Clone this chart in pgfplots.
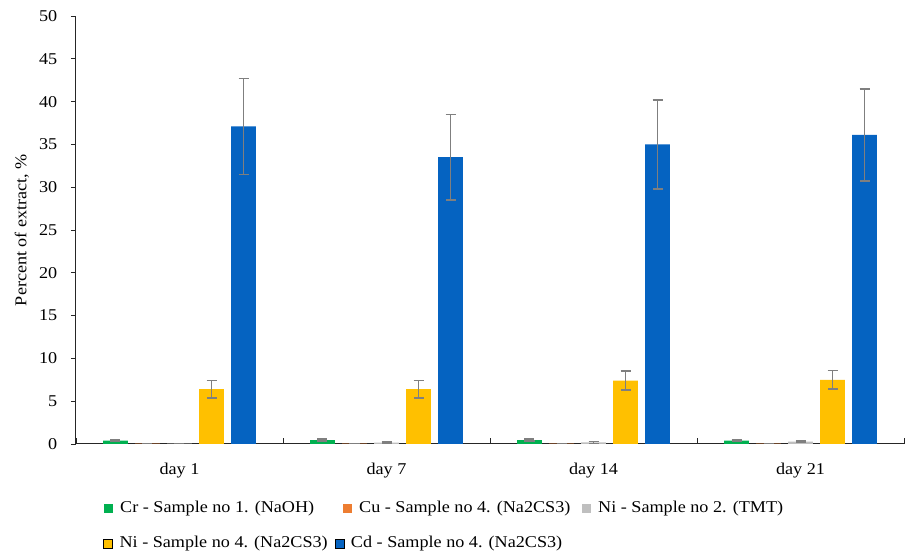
\documentclass[border=0pt]{standalone}
\usepackage{pgfplots}
\pgfplotsset{compat=1.18}
\usepackage{fontspec}
\setmainfont{Liberation Serif}[FakeStretch=1.1]
\definecolor{cgreen}{HTML}{00B050}
\definecolor{corange}{HTML}{ED7D31}
\definecolor{cgray}{HTML}{BFBFBF}
\definecolor{cyellow}{HTML}{FFC000}
\definecolor{cblue}{HTML}{0563C1}
\definecolor{errc}{HTML}{7F7F7F}
\begin{document}
\fontsize{16.5}{19}\selectfont
\begin{tikzpicture}
\pgfplotsset{
  mybar/.style={fill=#1, draw=none, bar width=0.119,
    error bars/.cd, y dir=both, y explicit,
    error bar style={errc, line width=1.6pt},
    error mark options={errc, line width=1.6pt, mark size=5pt, rotate=90},
    /pgfplots/.cd},
  legsq/.style={legend image code/.code={\fill[##1] (0pt,-4.5pt) rectangle (9pt,4.5pt);}},
}
\begin{axis}[
  name=main,
  at={(0pt,0pt)}, anchor=south west,
  scale only axis, width=828pt, height=428pt,
  ybar, 
  xmin=-0.5, xmax=3.5, ymin=0, ymax=50,
  ytick={0,5,...,50},
  xtick={0,1,2,3}, xticklabels={day 1, day 7, day 14, day 21},
  major x tick style={draw=none},
  minor xtick={-0.5,0.5,1.5,2.5,3.5},
  minor x tick style={black!85, line width=0.8pt},
  minor tick length=6pt,
  ytick style={black!85, line width=0.8pt},
  major tick length=5pt,
  tick align=outside,
  x tick style={/pgfplots/tick align=inside},
  axis x line*=bottom, axis y line*=left,
  axis line style={black!85, line width=1pt, -},
  /pgf/number format/assume math mode=true,
  tick label style={font=\fontsize{16.5}{19}\selectfont},
  xticklabel style={yshift=-8pt},
  yticklabel style={xshift=-8pt},
  ylabel={Percent of extract, \%},
  ylabel style={font=\fontsize{16.5}{19}\selectfont, yshift=-1pt},
  legend columns=-1,
  legend style={draw=none, inner sep=0pt, at={(0.0338,-0.1507)}, anchor=west,
    font=\fontsize{16.5}{19}\selectfont,
    nodes={inner sep=0pt},
    /tikz/every odd column/.style={column sep=7pt},
    /tikz/every even column/.style={column sep=0pt},
    legend cell align=left},
]
\addplot[mybar=cgreen, bar shift=-0.3092, legsq] coordinates {
 (0,0.40) +- (0,0.10) (1,0.45) +- (0,0.10) (2,0.45) +- (0,0.10) (3,0.40) +- (0,0.10)};
\addlegendentry{\makebox[223pt][l]{Cr - Sample no 1. (NaOH)}}
\addplot[mybar=corange, bar shift=-0.1546, legsq] coordinates {
 (0,0.03) +- (0,0.02) (1,0.03) +- (0,0.02) (2,0.03) +- (0,0.02) (3,0.03) +- (0,0.02)};
\addlegendentry{\makebox[223pt][l]{Cu - Sample no 4. (Na2CS3)}}
\addplot[mybar=cgray, bar shift=0, legsq] coordinates {
 (0,0.05) +- (0,0.03) (1,0.15) +- (0,0.10) (2,0.18) +- (0,0.10) (3,0.28) +- (0,0.10)};
\addlegendentry{\makebox[223pt][l]{Ni - Sample no 2. (TMT)}}
\addplot[mybar=cyellow, bar shift=0.1546] coordinates {
 (0,6.4) +- (0,1.0) (1,6.4) +- (0,1.0) (2,7.4) +- (0,1.1) (3,7.5) +- (0,1.1)};
\addplot[mybar=cblue, bar shift=0.3092] coordinates {
 (0,37.1) +- (0,5.6) (1,33.5) +- (0,5.0) (2,35.0) +- (0,5.2) (3,36.1) +- (0,5.4)};
\end{axis}
\begin{axis}[
  at={(main.south west)}, anchor=south west,
  scale only axis, width=828pt, height=428pt,
  hide axis, xmin=0, xmax=1, ymin=0, ymax=1,
  legend columns=-1,
  legend style={draw=none, inner sep=0pt, at={(0.0326,-0.2325)}, anchor=west,
    font=\fontsize{16.5}{19}\selectfont,
    nodes={inner sep=0pt},
    /tikz/every odd column/.style={column sep=7pt},
    /tikz/every even column/.style={column sep=0pt},
    legend cell align=left},
]
\addlegendimage{legsq, fill=cyellow}
\addlegendentry{\makebox[215pt][l]{Ni - Sample no 4. (Na2CS3)}}
\addlegendimage{legsq, fill=cblue}
\addlegendentry{\makebox[215pt][l]{Cd - Sample no 4. (Na2CS3)}}
\end{axis}
\pgfresetboundingbox
\path (main.south west) ++(-76pt,-109pt) rectangle ++(907pt,553pt);
\end{tikzpicture}
\end{document}
